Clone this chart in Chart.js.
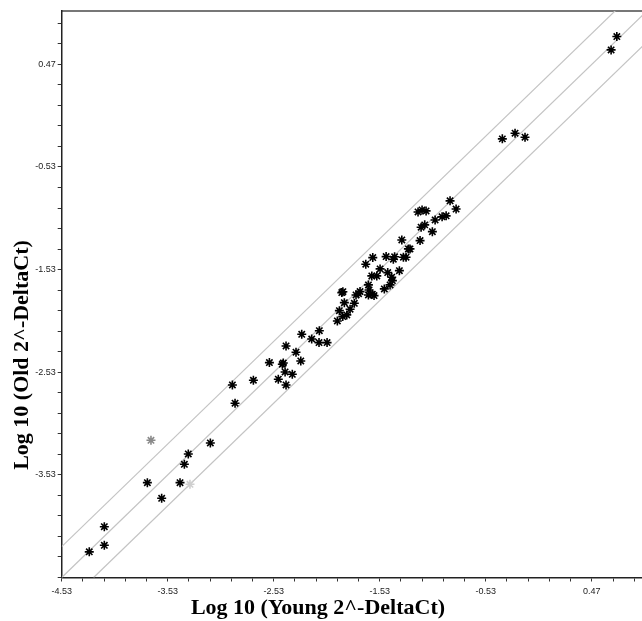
<!DOCTYPE html>
<html>
<head>
<meta charset="utf-8">
<script src="https://cdn.jsdelivr.net/npm/chart.js@4.4.1/dist/chart.umd.min.js"></script>
<style>
  html, body { margin: 0; padding: 0; background: #fff; overflow: hidden; width: 642px; height: 621px; }
  #wrap { width: 662px; height: 621px; }
</style>
</head>
<body>
<div id="wrap"><canvas id="chart" width="662" height="621"></canvas></div>
<script>
// axis ticks (log10 units)
let majorTicks = [-4.53, -3.53, -2.53, -1.53, -0.53, 0.47];
let majorLabels = ['-4.53', '-3.53', '-2.53', '-1.53', '-0.53', '0.47'];
let minorStep = 0.2;

// genes: log10 young (x) vs log10 old (y)
let youngX = [-4.27, -4.128, -4.128, -3.722, -3.587, -3.414, -3.373, -3.336, -3.128, -2.895,
    -2.92, -2.722, -2.571, -2.449, -2.44, -2.414, -2.423, -2.487, -2.414, -2.355,
    -2.32, -2.275, -2.266, -2.172, -2.10, -2.103, -2.027, -1.93, -1.888, -1.878,
    -1.911, -1.864, -1.879, -1.841, -1.81, -1.77, -1.754, -1.716, -1.73, -1.637,
    -1.631, -1.637, -1.60, -1.584, -1.662, -1.596, -1.605, -1.558, -1.527, -1.487,
    -1.47, -1.455, -1.433, -1.417, -1.411, -1.402, -1.39, -1.345, -1.322, -1.307,
    -1.282, -1.26, -1.245, -1.15, -1.14, -1.106, -1.034, -1.008, -1.169, -1.131,
    -1.093, -0.942, -0.904, -0.867, -0.81, -0.374, -0.254, -0.16, 0.706, 0.652];
let oldY = [-4.28, -4.035, -4.216, -3.606, -3.758, -3.606, -3.427, -3.326, -3.219, -2.832,
    -2.654, -2.608, -2.436, -2.452, -2.44, -2.274, -2.527, -2.598, -2.654, -2.55,
    -2.335, -2.42, -2.16, -2.206, -2.125, -2.241, -2.241, -2.03, -1.754, -1.745,
    -1.93, -1.852, -1.988, -1.971, -1.916, -1.858, -1.777, -1.744, -1.765, -1.679,
    -1.728, -1.777, -1.77, -1.783, -1.477, -1.413, -1.591, -1.591, -1.523, -1.718,
    -1.403, -1.559, -1.679, -1.604, -1.637, -1.429, -1.405, -1.54, -1.241, -1.409,
    -1.409, -1.328, -1.328, -1.247, -1.117, -1.094, -1.16, -1.046, -0.968, -0.948,
    -0.958, -1.016, -1.006, -0.86, -0.94, -0.256, -0.201, -0.24, 0.741, 0.611];

// two faint genes
let greyX = [-3.688];
let greyY = [-3.193];
let paleX = [-3.32];
let paleY = [-3.622];

// fold-change boundaries (y = x, y = x +/- log10 2)
let upperLineX = [-4.53, 1.0];
let upperLineY = [-4.229, 1.301];
let midLineX = [-4.53, 1.0];
let midLineY = [-4.53, 1.0];
let lowerLineX = [-4.229, 1.0];
let lowerLineY = [-4.53, 0.699];

function pairs(xs, ys) {
    return xs.map(function (x, i) { return { x: x, y: ys[i] }; });
}

function buildTicks(scale) {
    let ticks = [];
    for (let i = 0; i < 28; i++) {
        ticks.push({ value: Math.round((majorTicks[0] + i * minorStep) * 100) / 100 });
    }
    scale.ticks = ticks;
}

function tickLabel(value, hideFirst) {
    for (let i = 0; i < majorTicks.length; i++) {
        if (Math.abs(value - majorTicks[i]) < 0.001) {
            if (hideFirst && i === 0) return '';
            return majorLabels[i];
        }
    }
    return '';
}

let lineStyle = {
    type: 'line', borderColor: '#c4c4c4', borderWidth: 1.2,
    pointRadius: 0, fill: false, tension: 0, order: 2
};
let starStyle = {
    type: 'scatter', pointStyle: 'star', pointRadius: 4.5,
    pointBorderWidth: 1.6, order: 1
};

// axis titles drawn where the original puts them
let titles = {
    id: 'titles',
    afterDraw: function (chart) {
        let ctx = chart.ctx;
        ctx.save();
        ctx.fillStyle = '#000';
        ctx.font = 'bold 22px "Liberation Serif", "Times New Roman", serif';
        ctx.textAlign = 'center';
        ctx.textBaseline = 'alphabetic';
        ctx.fillText('Log 10 (Young 2^-DeltaCt)', 318, 614);
        ctx.translate(28, 355);
        ctx.rotate(-Math.PI / 2);
        ctx.fillText('Log 10 (Old 2^-DeltaCt)', 0, 0);
        ctx.restore();
    }
};

let ctx = document.getElementById('chart');
let chart = new Chart(ctx, {
    data: {
        datasets: [
            Object.assign({ data: pairs(upperLineX, upperLineY) }, lineStyle),
            Object.assign({ data: pairs(midLineX, midLineY) }, lineStyle),
            Object.assign({ data: pairs(lowerLineX, lowerLineY) }, lineStyle),
            Object.assign({ data: pairs(youngX, oldY), borderColor: '#000', backgroundColor: '#000' }, starStyle),
            Object.assign({ data: pairs(greyX, greyY), borderColor: '#8a8a8a', backgroundColor: '#8a8a8a' }, starStyle),
            Object.assign({ data: pairs(paleX, paleY), borderColor: '#cfcfcf', backgroundColor: '#cfcfcf' }, starStyle)
        ]
    },
    plugins: [titles],
    options: {
        responsive: false,
        animation: false,
        layout: { padding: { top: 11, right: 14, left: 0, bottom: 0 } },
        plugins: { legend: { display: false }, tooltip: { enabled: false } },
        scales: {
            x: {
                type: 'linear', position: 'bottom', min: -4.53, max: 1.0,
                afterBuildTicks: buildTicks,
                afterFit: function (scale) { scale.height = 43.5; },
                border: { color: '#222', width: 1.5 },
                grid: { drawOnChartArea: false, tickLength: 4, color: '#333', tickWidth: 1 },
                ticks: {
                    autoSkip: false, maxRotation: 0, padding: 5, color: '#222',
                    font: { family: '"Liberation Sans", Arial, sans-serif', size: 9 },
                    callback: function (v) { return tickLabel(v, false); }
                }
            },
            xTop: {
                type: 'linear', position: 'top', min: -4.53, max: 1.0,
                afterFit: function (scale) { scale.height = 0; },
                border: { color: '#777', width: 2 },
                grid: { display: false, drawTicks: false },
                ticks: { display: false }
            },
            y: {
                type: 'linear', position: 'left', min: -4.53, max: 0.99,
                afterBuildTicks: buildTicks,
                afterFit: function (scale) { scale.width = 61.7; },
                border: { color: '#222', width: 1.5 },
                grid: { drawOnChartArea: false, tickLength: 4, color: '#333', tickWidth: 1 },
                ticks: {
                    autoSkip: false, padding: 2, color: '#222',
                    font: { family: '"Liberation Sans", Arial, sans-serif', size: 9 },
                    callback: function (v) { return tickLabel(v, true); }
                }
            }
        }
    }
});
</script>
</body>
</html>
